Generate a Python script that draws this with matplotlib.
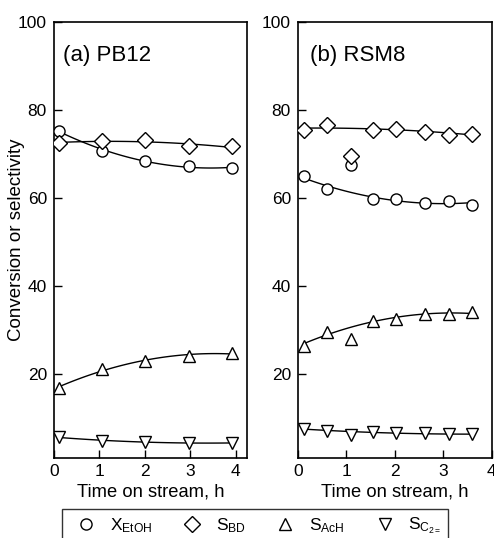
import numpy as np
import matplotlib
matplotlib.use("Agg")
import matplotlib.pyplot as plt
from matplotlib.lines import Line2D

plt.rcParams['font.family'] = ['Liberation Sans', 'DejaVu Sans']
plt.rcParams['mathtext.fontset'] = 'custom'
plt.rcParams['mathtext.rm'] = 'Liberation Sans'
plt.rcParams['mathtext.it'] = 'Liberation Sans:italic'
plt.rcParams['mathtext.bf'] = 'Liberation Sans:bold'

# ---- data ----
t_a = [0.12, 1.05, 2.0, 2.97, 3.93]
x_etoh_a = [75.3, 70.6, 68.5, 67.3, 66.8]
s_bd_a = [72.5, 73.0, 73.1, 71.7, 71.7]
s_ach_a = [16.9, 21.1, 23.0, 24.1, 24.7]
s_c2_a = [5.6, 4.8, 4.6, 4.3, 4.3]

t_b = [0.12, 0.61, 1.09, 1.56, 2.03, 2.63, 3.12, 3.6]
x_etoh_b = [65.1, 62.0, 67.4, 59.8, 59.8, 58.9, 59.2, 58.5]
s_bd_b = [75.5, 76.5, 69.5, 75.4, 75.7, 75.1, 74.4, 74.6]
s_ach_b = [26.4, 29.6, 28.0, 32.1, 32.5, 33.6, 33.6, 34.0]
s_c2_b = [7.5, 7.1, 6.1, 6.7, 6.5, 6.5, 6.3, 6.3]

panel_titles = ['(a) PB12', '(b) RSM8']
legend_labels = [r'X$_{\mathrm{EtOH}}$', r'S$_{\mathrm{BD}}$', r'S$_{\mathrm{AcH}}$', r'S$_{\mathrm{C}_{2=}}$']
markers = ['o', 'D', '^', 'v']
msizes = [8, 8.4, 8.6, 8.6]

fig = plt.figure(figsize=(4.94, 5.38), dpi=100)
ax_a = fig.add_axes([0.109, 0.1496, 0.391, 0.8095])
ax_b = fig.add_axes([0.603, 0.1496, 0.392, 0.8095])

def draw(ax, t, series, exclude=()):
    t = np.asarray(t, float)
    keep = np.array([j not in exclude for j in range(len(t))])
    for i, y in enumerate(series):
        y = np.asarray(y, float)
        c = np.polyfit(t[keep], y[keep], 2)
        tt = np.linspace(t[0], t[-1], 100)
        ax.plot(tt, np.polyval(c, tt), color='black', lw=1.0, zorder=2)
        ax.plot(t, y, linestyle='none', marker=markers[i], ms=msizes[i],
                mfc='white', mec='black', mew=1.0, zorder=3)

draw(ax_a, t_a, [x_etoh_a, s_bd_a, s_ach_a, s_c2_a])
draw(ax_b, t_b, [x_etoh_b, s_bd_b, s_ach_b, s_c2_b], exclude=(2,))

for ax, title, xmax, tx in [(ax_a, panel_titles[0], 4.25, 0.045), (ax_b, panel_titles[1], 4.0, 0.06)]:
    ax.set_xlim(0, xmax)
    ax.set_ylim(1, 100)
    ax.set_xticks([0, 1, 2, 3, 4])
    ax.set_yticks([20, 40, 60, 80, 100])
    ax.tick_params(direction='in', length=5.5, width=1.0, labelsize=12.5, pad=5)
    for s in ax.spines.values():
        s.set_linewidth(1.2)
    ax.text(tx, 0.922, title, transform=ax.transAxes,
            fontsize=16, va='center', ha='left')
    ax.set_xlabel('Time on stream, h', fontsize=13.2, labelpad=3)

ax_a.set_ylabel('Conversion or selectivity', fontsize=13.5)
ax_a.yaxis.set_label_coords(-0.15, 0.5)

handles = [Line2D([], [], linestyle='none', marker=m, ms=s, mfc='white', mec='black', mew=1.0)
           for m, s in zip(markers, msizes)]
leg = fig.legend(handles, legend_labels, ncol=4, loc='upper left',
                 bbox_to_anchor=(0.1255, 0.054), fontsize=12.5, frameon=True,
                 fancybox=False, edgecolor='black', handlelength=2.0,
                 handletextpad=0.35, columnspacing=1.3, borderpad=0.4,
                 borderaxespad=0)
leg.get_frame().set_linewidth(1.0)

fig.savefig('out.png', dpi=100)
